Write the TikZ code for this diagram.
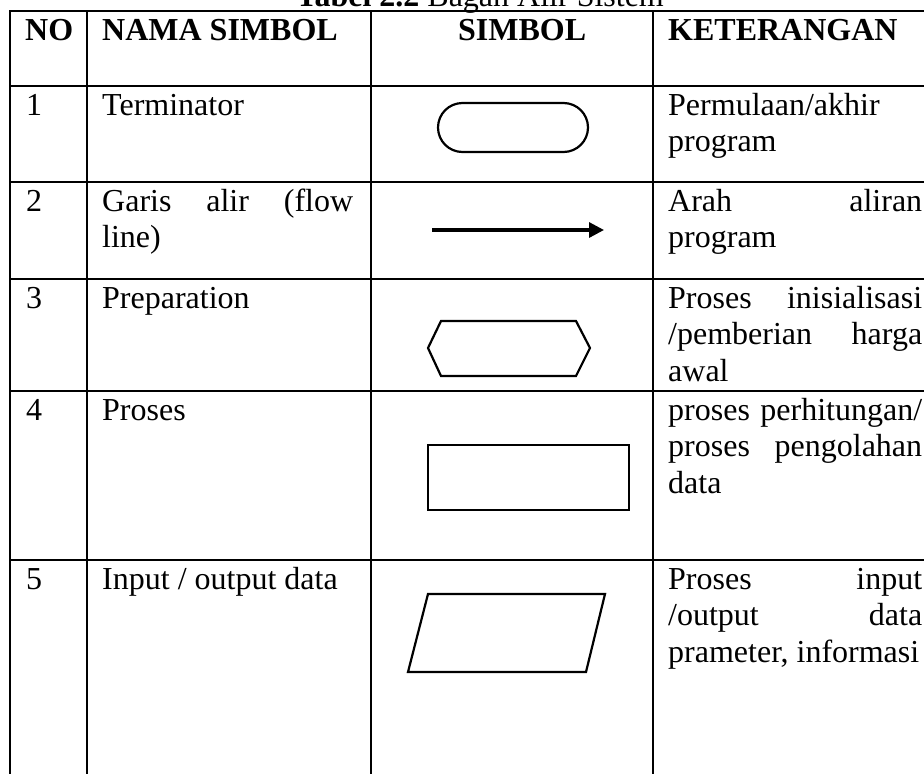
\documentclass[tikz,border=0pt]{standalone}
\usepackage{fontspec}
\setmainfont{Liberation Serif}
\usetikzlibrary{arrows.meta}

\begin{document}
\begin{tikzpicture}[x=1pt,y=-1pt,
  grid/.style={line width=2.6pt,line cap=rect},
  symbolshape/.style={line width=2.2pt,line join=miter},
  flowarrow/.style={line width=3.2pt,-{Triangle[length=15pt,width=15pt]}},
  txt/.style={anchor=base west,inner sep=0pt,font=\fontsize{32}{36.7}\selectfont},
  head/.style={txt,font=\fontsize{32}{36.7}\selectfont\bfseries}]
\useasboundingbox (0,0) rectangle (924,774);

% caption
\node[anchor=base,inner sep=0pt,font=\fontsize{32}{36.7}\selectfont] (cap) at (480,6)
  {\textbf{Tabel 2.2} Bagan Alir Sistem};

% table rules
\foreach \y in {11,86,182,279,391,560}
  \draw[grid] (10,\y) -- (924,\y);
\foreach \x in {10,87,371,653}
  \draw[grid] (\x,11) -- (\x,776);

% header
\node[head] (hno)   at (25,40)  {NO};
\node[head] (hname) at (102,40) {NAMA SIMBOL};
\node[head] (hsym)  at (458,40) {SIMBOL};
\node[head] (hket)  at (668,40) {KETERANGAN};

% row 1
\node[txt] (n1) at (26,115)  {1};
\node[txt] (a1) at (102,115) {Terminator};
\node[txt] (k1a) at (668,115) {Permulaan/akhir};
\node[txt] (k1b) at (668,151.7) {program};
\draw[symbolshape,rounded corners=24.5pt] (438,103) rectangle (588,152);

% row 2
\node[txt] (n2) at (26,211)  {2};
\node[txt] (a2a) at (102,211) {\hbox to 251pt{Garis\hfill alir\hfill (flow}};
\node[txt] (a2b) at (102,247.7) {line)};
\node[txt] (k2a) at (668,211) {\hbox to 254pt{Arah\hfill aliran}};
\node[txt] (k2b) at (668,247.7) {program};
\coordinate (fa) at (432,230);
\coordinate (fb) at (604,230);
\draw[flowarrow] (fa) -- (fb);

% row 3
\node[txt] (n3) at (26,308)  {3};
\node[txt] (a3) at (102,308) {Preparation};
\node[txt] (k3a) at (668,308) {\hbox to 254pt{Proses\hfill inisialisasi}};
\node[txt] (k3b) at (668,344.7) {\hbox to 254pt{/pemberian\hfill harga}};
\node[txt] (k3c) at (668,381.4) {awal};
\draw[symbolshape] (428,348) -- (441,321) -- (576,321) -- (590,348)
  -- (576,376) -- (441,376) -- cycle;

% row 4
\node[txt] (n4) at (26,420)  {4};
\node[txt] (a4) at (102,420) {Proses};
\node[txt] (k4a) at (668,420) {\hbox to 254pt{proses\hfill perhitungan/}};
\node[txt] (k4b) at (668,456.7) {\hbox to 254pt{proses\hfill pengolahan}};
\node[txt] (k4c) at (668,493.4) {data};
\draw[symbolshape] (428,445) rectangle (629,510);

% row 5
\node[txt] (n5) at (26,589)  {5};
\node[txt] (a5) at (102,589) {Input / output data};
\node[txt] (k5a) at (668,589) {\hbox to 254pt{Proses\hfill input}};
\node[txt] (k5b) at (668,625.7) {\hbox to 254pt{/output\hfill data}};
\node[txt] (k5c) at (668,662.4) {prameter, informasi};
\draw[symbolshape] (428,594) -- (605,594) -- (586,672) -- (408,672) -- cycle;
\end{tikzpicture}
\end{document}
